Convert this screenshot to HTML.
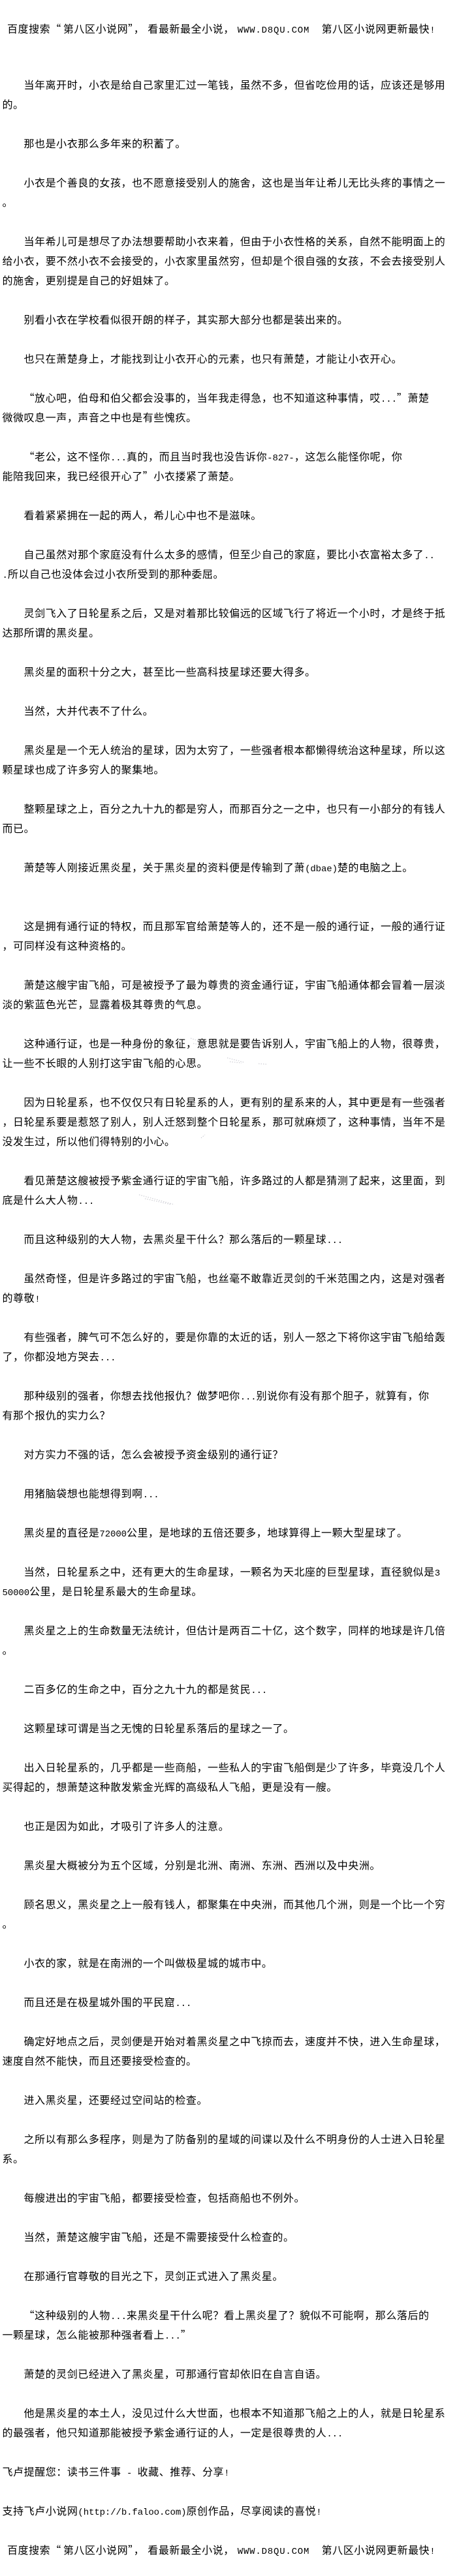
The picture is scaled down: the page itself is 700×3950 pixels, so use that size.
<!DOCTYPE html>
<html lang="zh"><head><meta charset="utf-8"><title>第八区小说网</title>
<style>
html,body{margin:0;padding:0;background:#fff;width:700px;height:3950px;overflow:hidden}
#p{position:absolute;left:3.5px;top:114px;width:696px}
.t{position:absolute;left:11px;white-space:pre;font:16px/30px "WenQuanYi Zen Hei","Noto Sans CJK SC",sans-serif;letter-spacing:.56px;color:#000}
#p{font:16px/30px "WenQuanYi Zen Hei","Noto Sans CJK SC",sans-serif;letter-spacing:.56px;color:#000}
#p div{height:30px;white-space:pre}
.i{padding-left:33px}
i{font:14px/30px "Liberation Mono",monospace;font-style:normal;letter-spacing:-.1px}
.w{letter-spacing:.8px}
svg{position:absolute;left:0;top:0}
</style></head><body>
<svg width="700" height="3950" fill="none" stroke="#c4c4cc" stroke-width="1" stroke-dasharray="1.5 2">
<path d="M292 1592l40 14M296 1600l30 6M348 1622l26 7M352 1628l18 2M396 1631l14 1M226 1688l9 7M470 1682l55 13M480 1690l42 4M253 1713l46 12M260 1720l32 5M308 1745l6-5M213 1832l54 15M222 1838l40 9M348 1891l37 15M354 1899l24 6"/>
</svg>
<div class="t" style="top:28px">百度搜索“<span style="margin-left:3px">第</span>八区小说网”，<span style="margin-left:5px">看</span>最新最全小说，<i class="w" style="margin-left:5px">WWW.D8QU.COM  </i>第八区小说网更新最快<i>!</i></div>
<div id="p">
<div class="i">当年离开时，小衣是给自己家里汇过一笔钱，虽然不多，但省吃俭用的话，应该还是够用</div>
<div>的。</div>
<div></div>
<div class="i">那也是小衣那么多年来的积蓄了。</div>
<div></div>
<div class="i">小衣是个善良的女孩，也不愿意接受别人的施舍，这也是当年让希儿无比头疼的事情之一</div>
<div>。</div>
<div></div>
<div class="i">当年希儿可是想尽了办法想要帮助小衣来着，但由于小衣性格的关系，自然不能明面上的</div>
<div>给小衣，要不然小衣不会接受的，小衣家里虽然穷，但却是个很自强的女孩，不会去接受别人</div>
<div>的施舍，更别提是自己的好姐妹了。</div>
<div></div>
<div class="i">别看小衣在学校看似很开朗的样子，其实那大部分也都是装出来的。</div>
<div></div>
<div class="i">也只在萧楚身上，才能找到让小衣开心的元素，也只有萧楚，才能让小衣开心。</div>
<div></div>
<div class="i">“放心吧，伯母和伯父都会没事的，当年我走得急，也不知道这种事情，哎<i>...</i>”萧楚</div>
<div>微微叹息一声，声音之中也是有些愧疚。</div>
<div></div>
<div class="i">“老公，这不怪你<i>...</i>真的，而且当时我也没告诉你<i>-827-</i>，这怎么能怪你呢，你</div>
<div>能陪我回来，我已经很开心了”小衣搂紧了萧楚。</div>
<div></div>
<div class="i">看着紧紧拥在一起的两人，希儿心中也不是滋味。</div>
<div></div>
<div class="i">自己虽然对那个家庭没有什么太多的感情，但至少自己的家庭，要比小衣富裕太多了<i>..</i></div>
<div><i>.</i>所以自己也没体会过小衣所受到的那种委屈。</div>
<div></div>
<div class="i">灵剑飞入了日轮星系之后，又是对着那比较偏远的区域飞行了将近一个小时，才是终于抵</div>
<div>达那所谓的黑炎星。</div>
<div></div>
<div class="i">黑炎星的面积十分之大，甚至比一些高科技星球还要大得多。</div>
<div></div>
<div class="i">当然，大并代表不了什么。</div>
<div></div>
<div class="i">黑炎星是一个无人统治的星球，因为太穷了，一些强者根本都懒得统治这种星球，所以这</div>
<div>颗星球也成了许多穷人的聚集地。</div>
<div></div>
<div class="i">整颗星球之上，百分之九十九的都是穷人，而那百分之一之中，也只有一小部分的有钱人</div>
<div>而已。</div>
<div></div>
<div class="i">萧楚等人刚接近黑炎星，关于黑炎星的资料便是传输到了萧<i>(dbae)</i>楚的电脑之上。</div>
<div></div>
<div></div>
<div class="i">这是拥有通行证的特权，而且那军官给萧楚等人的，还不是一般的通行证，一般的通行证</div>
<div>，可同样没有这种资格的。</div>
<div></div>
<div class="i">萧楚这艘宇宙飞船，可是被授予了最为尊贵的资金通行证，宇宙飞船通体都会冒着一层淡</div>
<div>淡的紫蓝色光芒，显露着极其尊贵的气息。</div>
<div></div>
<div class="i">这种通行证，也是一种身份的象征，意思就是要告诉别人，宇宙飞船上的人物，很尊贵，</div>
<div>让一些不长眼的人别打这宇宙飞船的心思。</div>
<div></div>
<div class="i">因为日轮星系，也不仅仅只有日轮星系的人，更有别的星系来的人，其中更是有一些强者</div>
<div>，日轮星系要是惹怒了别人，别人迁怒到整个日轮星系，那可就麻烦了，这种事情，当年不是</div>
<div>没发生过，所以他们得特别的小心。</div>
<div></div>
<div class="i">看见萧楚这艘被授予紫金通行证的宇宙飞船，许多路过的人都是猜测了起来，这里面，到</div>
<div>底是什么大人物<i>...</i></div>
<div></div>
<div class="i">而且这种级别的大人物，去黑炎星干什么？那么落后的一颗星球<i>...</i></div>
<div></div>
<div class="i">虽然奇怪，但是许多路过的宇宙飞船，也丝毫不敢靠近灵剑的千米范围之内，这是对强者</div>
<div>的尊敬<i>!</i></div>
<div></div>
<div class="i">有些强者，脾气可不怎么好的，要是你靠的太近的话，别人一怒之下将你这宇宙飞船给轰</div>
<div>了，你都没地方哭去<i>...</i></div>
<div></div>
<div class="i">那种级别的强者，你想去找他报仇？做梦吧你<i>...</i>别说你有没有那个胆子，就算有，你</div>
<div>有那个报仇的实力么？</div>
<div></div>
<div class="i">对方实力不强的话，怎么会被授予资金级别的通行证？</div>
<div></div>
<div class="i">用猪脑袋想也能想得到啊<i>...</i></div>
<div></div>
<div class="i">黑炎星的直径是<i>72000</i>公里，是地球的五倍还要多，地球算得上一颗大型星球了。</div>
<div></div>
<div class="i">当然，日轮星系之中，还有更大的生命星球，一颗名为天北座的巨型星球，直径貌似是<i>3</i></div>
<div><i>50000</i>公里，是日轮星系最大的生命星球。</div>
<div></div>
<div class="i">黑炎星之上的生命数量无法统计，但估计是两百二十亿，这个数字，同样的地球是许几倍</div>
<div>。</div>
<div></div>
<div class="i">二百多亿的生命之中，百分之九十九的都是贫民<i>...</i></div>
<div></div>
<div class="i">这颗星球可谓是当之无愧的日轮星系落后的星球之一了。</div>
<div></div>
<div class="i">出入日轮星系的，几乎都是一些商船，一些私人的宇宙飞船倒是少了许多，毕竟没几个人</div>
<div>买得起的，想萧楚这种散发紫金光辉的高级私人飞船，更是没有一艘。</div>
<div></div>
<div class="i">也正是因为如此，才吸引了许多人的注意。</div>
<div></div>
<div class="i">黑炎星大概被分为五个区域，分别是北洲、南洲、东洲、西洲以及中央洲。</div>
<div></div>
<div class="i">顾名思义，黑炎星之上一般有钱人，都聚集在中央洲，而其他几个洲，则是一个比一个穷</div>
<div>。</div>
<div></div>
<div class="i">小衣的家，就是在南洲的一个叫做极星城的城市中。</div>
<div></div>
<div class="i">而且还是在极星城外围的平民窟<i>...</i></div>
<div></div>
<div class="i">确定好地点之后，灵剑便是开始对着黑炎星之中飞掠而去，速度并不快，进入生命星球，</div>
<div>速度自然不能快，而且还要接受检查的。</div>
<div></div>
<div class="i">进入黑炎星，还要经过空间站的检查。</div>
<div></div>
<div class="i">之所以有那么多程序，则是为了防备别的星域的间谍以及什么不明身份的人士进入日轮星</div>
<div>系。</div>
<div></div>
<div class="i">每艘进出的宇宙飞船，都要接受检查，包括商船也不例外。</div>
<div></div>
<div class="i">当然，萧楚这艘宇宙飞船，还是不需要接受什么检查的。</div>
<div></div>
<div class="i">在那通行官尊敬的目光之下，灵剑正式进入了黑炎星。</div>
<div></div>
<div class="i">“这种级别的人物<i>...</i>来黑炎星干什么呢？看上黑炎星了？貌似不可能啊，那么落后的</div>
<div>一颗星球，怎么能被那种强者看上<i>...</i>”</div>
<div></div>
<div class="i">萧楚的灵剑已经进入了黑炎星，可那通行官却依旧在自言自语。</div>
<div></div>
<div class="i">他是黑炎星的本土人，没见过什么大世面，也根本不知道那飞船之上的人，就是日轮星系</div>
<div>的最强者，他只知道那能被授予紫金通行证的人，一定是很尊贵的人<i>...</i></div>
<div></div>
<div>飞卢提醒您：读书三件事<i> - </i>收藏、推荐、分享<i>!</i></div>
<div></div>
<div>支持飞卢小说网<i>(http://b.faloo.com)</i>原创作品，尽享阅读的喜悦<i>!</i></div>
</div>
<div class="t" style="top:3894px">百度搜索“<span style="margin-left:3px">第</span>八区小说网”，<span style="margin-left:5px">看</span>最新最全小说，<i class="w" style="margin-left:5px">WWW.D8QU.COM  </i>第八区小说网更新最快<i>!</i></div>
</body></html>
